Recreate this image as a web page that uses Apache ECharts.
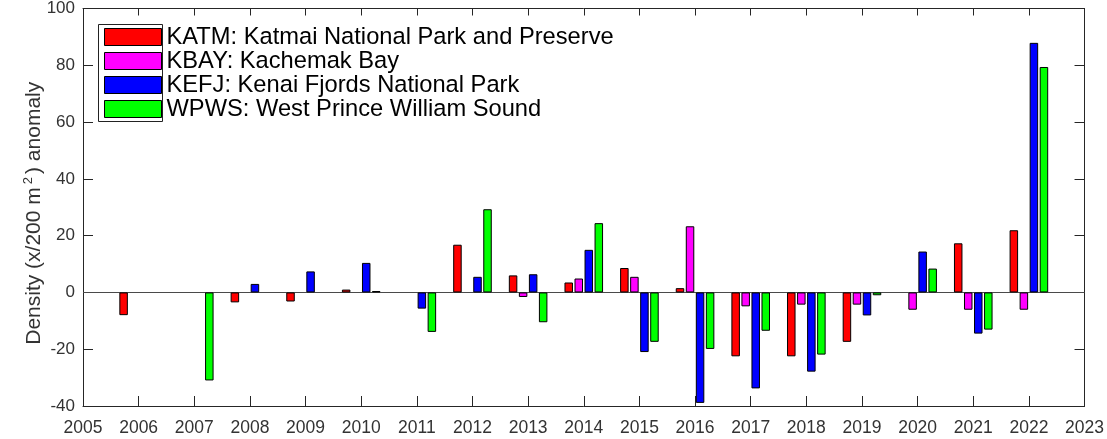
<!DOCTYPE html>
<html>
<head>
<meta charset="utf-8">
<style>
  html, body { margin: 0; padding: 0; background: #fff; }
  #chart { width: 1107px; height: 439px; }
</style>
<script src="https://cdn.jsdelivr.net/npm/echarts@6/dist/echarts.min.js"></script>
</head>
<body>
<div id="chart"></div>
<script>
// Survey years (bar group centres)
const years = [2006, 2007, 2008, 2009, 2010, 2011, 2012, 2013, 2014, 2015, 2016, 2017, 2018, 2019, 2020, 2021, 2022];

// Density anomaly per site (x/200 m^2); null = no survey
const katm = [-8.0, null, -3.5, -3.2, 1.0, null, 16.8, 6.0, 3.5, 8.6, 1.5, -22.5, -22.5, -17.4, null, 17.3, 21.9];
const kbay = [null, null, null, null, null, null, null, -1.6, 4.9, 5.5, 23.3, -4.9, -4.3, -4.3, -6.1, -6.1, -6.1];
const kefj = [null, null, 3.0, 7.4, 10.4, -5.7, 5.5, 6.4, 15.0, -21.0, -38.9, -33.8, -27.9, -8.1, 14.4, -14.5, 87.9];
const wpws = [null, -31.0, null, null, 0.5, -13.9, 29.3, -10.5, 24.4, -17.4, -19.9, -13.5, -21.9, -1.0, 8.4, -13.1, 79.4];

const siteNames = [
  'KATM: Katmai National Park and Preserve',
  'KBAY: Kachemak Bay',
  'KEFJ: Kenai Fjords National Park',
  'WPWS: West Prince William Sound'
];
const siteColors = ['#ff0000', '#ff00ff', '#0000ff', '#00ff00'];
const siteValues = [katm, kbay, kefj, wpws];

const axisGray = '#262626';
const fontFam = '"Liberation Sans", Arial, Helvetica, sans-serif';

const chart = echarts.init(document.getElementById('chart'), null, { renderer: 'canvas' });

const series = siteValues.map((vals, i) => ({
  name: siteNames[i],
  type: 'bar',
  xAxisIndex: 0,
  yAxisIndex: 0,
  barWidth: 8.5,
  barGap: '18%',
  itemStyle: { color: siteColors[i], borderColor: '#000', borderWidth: 1 },
  data: years.map((y, k) => [y, vals[k]]),
  markLine: i === 0 ? {
    silent: true,
    symbol: 'none',
    label: { show: false },
    lineStyle: { color: '#4a4a4a', width: 1, type: 'solid' },
    data: [{ yAxis: 0 }],
    z: 1
  } : undefined
}));

const option = {
  backgroundColor: '#fff',
  animation: false,
  grid: { left: 83, right: 22, top: 8, bottom: 33, containLabel: false },
  legend: {
    orient: 'vertical',
    left: 104,
    top: 25,
    padding: 0,
    itemWidth: 57,
    itemHeight: 17,
    itemGap: 0,
    icon: 'rect',
    selectedMode: false,
    itemStyle: { borderColor: '#000', borderWidth: 1 },
    textStyle: { fontFamily: fontFam, fontSize: 23.7, lineHeight: 23.3, color: '#000' },
    data: siteNames
  },
  graphic: [{
    type: 'rect',
    z: 0,
    silent: true,
    shape: { x: 98.5, y: 24.5, width: 64, height: 97 },
    style: { fill: '#fff', stroke: '#222', lineWidth: 1 }
  }],
  xAxis: [{
    type: 'value',
    min: 2005, max: 2023, interval: 1,
    position: 'bottom',
    axisLine: { show: true, onZero: false, lineStyle: { color: axisGray, width: 1 } },
    axisTick: { show: true, inside: true, length: 10, lineStyle: { color: axisGray } },
    splitLine: { show: false },
    axisLabel: { color: '#333', fontFamily: fontFam, fontSize: 17.5, margin: 13, formatter: v => String(v) }
  }, {
    type: 'value',
    min: 2005, max: 2023, interval: 1,
    position: 'top',
    axisLine: { show: true, onZero: false, lineStyle: { color: axisGray, width: 1 } },
    axisTick: { show: true, inside: true, length: 7, lineStyle: { color: axisGray } },
    splitLine: { show: false },
    axisLabel: { show: false }
  }],
  yAxis: [{
    type: 'value',
    min: -40, max: 100, interval: 20,
    position: 'left',
    axisLine: { show: true, onZero: false, lineStyle: { color: axisGray, width: 1 } },
    axisTick: { show: true, inside: true, length: 10, lineStyle: { color: axisGray } },
    splitLine: { show: false },
    axisLabel: { color: '#333', fontFamily: fontFam, fontSize: 17, margin: 8, padding: [4, 0, 0, 0] },
    name: 'Density (x/200 m{sup|2}) anomaly',
    nameLocation: 'middle',
    nameGap: 36,
    nameMoveOverlap: false,
    nameRotate: 90,
    nameTextStyle: {
      color: '#333', fontFamily: fontFam, fontSize: 21,
      padding: [0, 12, 0, 0],
      rich: {
        sup: { fontFamily: fontFam, fontSize: 13, color: '#333', padding: [0, 3, 12, 3] }
      }
    }
  }, {
    type: 'value',
    min: -40, max: 100, interval: 20,
    position: 'right',
    axisLine: { show: true, onZero: false, lineStyle: { color: axisGray, width: 1 } },
    axisTick: { show: true, inside: true, length: 10, lineStyle: { color: axisGray } },
    splitLine: { show: false },
    axisLabel: { show: false }
  }],
  series: series
};

chart.setOption(option);
</script>
</body>
</html>
